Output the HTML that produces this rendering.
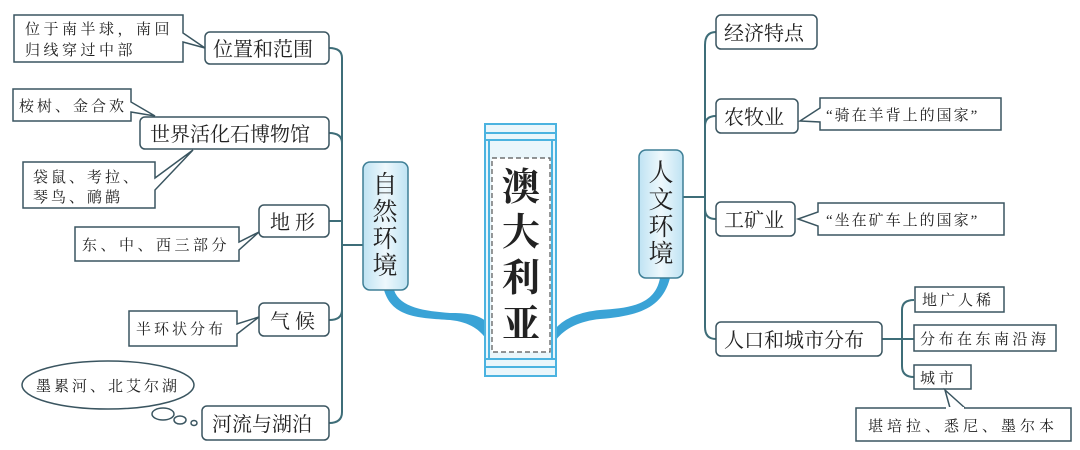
<!DOCTYPE html>
<html><head><meta charset="utf-8"><style>
body{margin:0;background:#fff;}
svg{display:block}
.n{font-family:"Liberation Serif","Noto Serif CJK SC",serif;fill:#222;}
</style></head><body>
<svg width="1080" height="450" viewBox="0 0 1080 450" xmlns="http://www.w3.org/2000/svg">
<defs>
<linearGradient id="g" x1="0" x2="1"><stop offset="0" stop-color="#bfe3f3"/><stop offset="0.5" stop-color="#eef8fc"/><stop offset="1" stop-color="#bfe3f3"/></linearGradient>
</defs>
<g fill="none" stroke="#3e6d78" stroke-width="2">
<path d="M329,48 Q342,48 342,58 L342,412 Q342,423 329,423"/>
<path d="M329,133 Q342,133 342,143"/>
<path d="M329,221 L342,221"/>
<path d="M329,320 Q342,320 342,310"/>
<path d="M342,245 L363,245"/>
<path d="M716,32 Q705,32 705,45 L705,327 Q705,339 716,339"/>
<path d="M716,116 Q705,116 705,126"/>
<path d="M716,219 Q705,219 705,209"/>
<path d="M683,197 L705,197"/>
<path d="M882,339 L914,339"/>
<path d="M914,300 Q902,300 902,310 L902,366 Q902,377 914,377"/>
</g>
<path d="M384,290 C392,318 420,318 450,320 C470,322 480,330 487,340 L487,322 C478,314 465,313 450,313 C425,311 400,308 394,290 Z" fill="#3aa3d6"/>
<path d="M660,278 C655,305 630,308 600,310 C580,312 565,318 556,328 L556,340 C565,328 580,321 600,319 C635,316 662,310 670,278 Z" fill="#3aa3d6"/>
<rect x="485" y="124" width="71" height="252" fill="#eaf6fb" stroke="#4bb3e0" stroke-width="2"/>
<g stroke="#4bb3e0" stroke-width="2"><line x1="485" y1="133" x2="556" y2="133"/><line x1="485" y1="140" x2="556" y2="140"/><line x1="485" y1="359" x2="556" y2="359"/><line x1="485" y1="367" x2="556" y2="367"/><line x1="489" y1="140" x2="489" y2="359"/><line x1="552" y1="140" x2="552" y2="359"/></g>
<rect x="492" y="158" width="58" height="194" fill="#fff" stroke="#555" stroke-width="1.2" stroke-dasharray="5,3"/>
<g class="n" font-size="38" font-weight="bold" text-anchor="middle"><text x="521" y="200">澳</text><text x="521" y="245">大</text><text x="521" y="291">利</text><text x="521" y="337">亚</text></g>
<rect x="363" y="162" width="45" height="128" rx="7" fill="url(#g)" stroke="#3e7f96" stroke-width="1.5"/>
<g class="n" font-size="25" text-anchor="middle"><text x="385" y="193">自</text><text x="385" y="220">然</text><text x="385" y="247">环</text><text x="385" y="274">境</text></g>
<rect x="639" y="150" width="44" height="128" rx="7" fill="url(#g)" stroke="#3e7f96" stroke-width="1.5"/>
<g class="n" font-size="25" text-anchor="middle"><text x="661" y="181">人</text><text x="661" y="208">文</text><text x="661" y="235">环</text><text x="661" y="262">境</text></g>
<g fill="#fff" stroke="#3a5560" stroke-width="1.5">
<rect x="205" y="32" width="124" height="32" rx="5"/>
<rect x="140" y="117" width="189" height="32" rx="5"/>
<rect x="259" y="205" width="70" height="32" rx="5"/>
<rect x="259" y="303" width="70" height="33" rx="5"/>
<rect x="202" y="406" width="127" height="34" rx="5"/>
<rect x="716" y="15" width="101" height="34" rx="5"/>
<rect x="716" y="99" width="82" height="34" rx="5"/>
<rect x="716" y="202" width="79" height="34" rx="5"/>
<rect x="716" y="322" width="166" height="34" rx="5"/>
<rect x="915" y="287" width="89" height="25"/>
<rect x="914" y="325" width="142" height="26"/>
<rect x="914" y="365" width="57" height="24"/>
</g>
<g class="n" font-size="20">
<text x="213" y="56">位置和范围</text>
<text x="150" y="141">世界活化石博物馆</text>
<text x="270" y="229">地 形</text>
<text x="270" y="328">气 候</text>
<text x="212" y="431">河流与湖泊</text>
<text x="724" y="40">经济特点</text>
<text x="724" y="124">农牧业</text>
<text x="724" y="227">工矿业</text>
<text x="724" y="347">人口和城市分布</text>
</g>
<g fill="#fff" stroke="#3a5560" stroke-width="1.5">
<path d="M14,15 H183 V33 L205,48 L183,42 V62 H14 Z"/>
<path d="M13,89 H131 V102 L155,116 L131,112 V121 H13 Z"/>
<path d="M23,162 H155 V178 L193,150 L155,190 V208 H23 Z"/>
<path d="M75,227 H239 V242 L259,232 L239,250 V261 H75 Z"/>
<path d="M129,311 H237 V324 L259,317 L237,334 V346 H129 Z"/>
<ellipse cx="108" cy="385" rx="86" ry="24"/>
<ellipse cx="163" cy="414" rx="11" ry="6"/>
<ellipse cx="180" cy="420" rx="6" ry="4"/>
<ellipse cx="194" cy="423" rx="3" ry="2.5"/>
<path d="M820,98 H1001 V130 H820 V122 L800,121 L820,108 Z"/>
<path d="M818,203 H1004 V235 H818 V226 L798,219 L818,212 Z"/>
<path d="M856,408 H1071 V441 H856 Z M950,408 L945,390 L965,408" />
</g>
<line x1="946" y1="408" x2="964" y2="408" stroke="#fff" stroke-width="2"/>
<g class="n" font-size="15">
<text x="25" y="34" letter-spacing="3.5">位于南半球，南回</text>
<text x="25" y="55" letter-spacing="3.5">归线穿过中部</text>
<text x="19" y="111" letter-spacing="3">桉树、金合欢</text>
<text x="33" y="182" letter-spacing="3">袋鼠、考拉、</text>
<text x="33" y="202" letter-spacing="3">琴鸟、鸸鹋</text>
<text x="82" y="250" letter-spacing="3.5">东、中、西三部分</text>
<text x="136" y="334" letter-spacing="3">半环状分布</text>
<text x="36" y="391" letter-spacing="3">墨累河、北艾尔湖</text>
<text x="826" y="120" letter-spacing="2">“骑在羊背上的国家”</text>
<text x="826" y="225" letter-spacing="2">“坐在矿车上的国家”</text>
<text x="922" y="305" letter-spacing="3">地广人稀</text>
<text x="920" y="344" letter-spacing="3.5">分布在东南沿海</text>
<text x="920" y="383">城  市</text>
<text x="868" y="431" letter-spacing="4">堪培拉、悉尼、墨尔本</text>
</g>
</svg>
</body></html>
